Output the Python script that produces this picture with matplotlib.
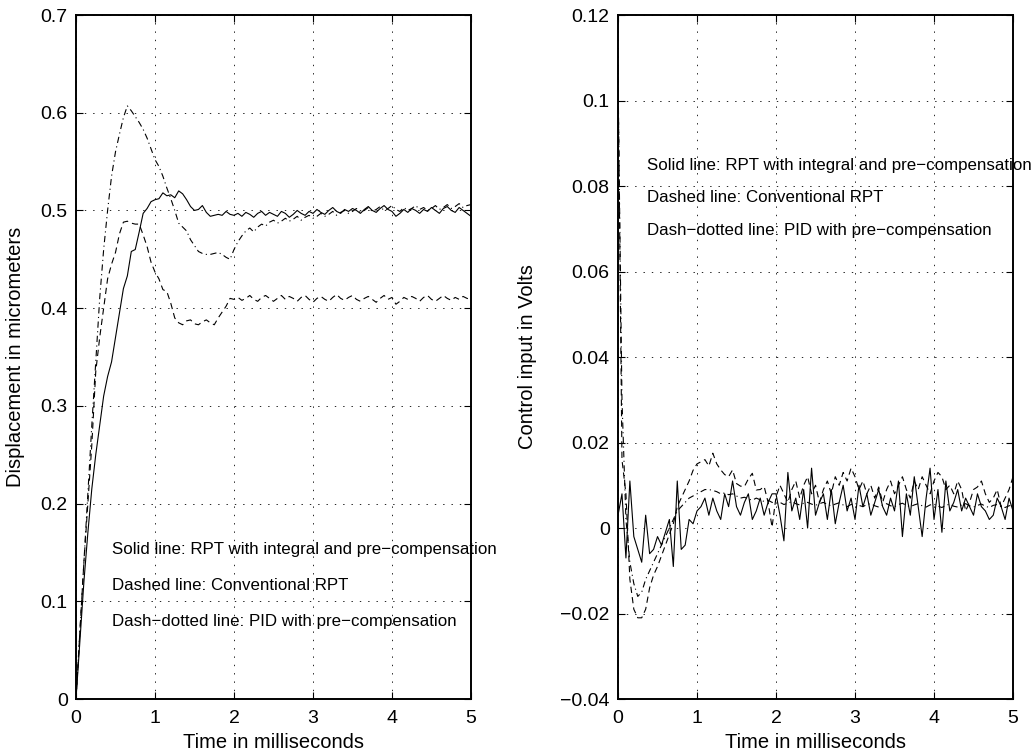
import numpy as np
import matplotlib
matplotlib.use("Agg")
import matplotlib.pyplot as plt

plt.rcParams['font.family'] = ['Liberation Sans', 'DejaVu Sans']
plt.rcParams['axes.unicode_minus'] = True
plt.rcParams['lines.scale_dashes'] = False

# time axis (ms), sampled every 0.05 ms
t_ms = np.linspace(0, 5, 101)

# ---- left panel: displacement (micrometers)
disp_solid = [
    0.0, 0.06, 0.12, 0.17, 0.215, 0.25, 0.28, 0.31, 0.33, 0.345,
    0.37, 0.395, 0.42, 0.433, 0.458, 0.46, 0.478, 0.497, 0.502, 0.509,
    0.511, 0.512, 0.518, 0.515, 0.516, 0.513, 0.52, 0.517, 0.511, 0.504,
    0.5, 0.501, 0.505, 0.498, 0.494, 0.495, 0.496, 0.495, 0.499, 0.496,
    0.495, 0.497, 0.494, 0.498, 0.496, 0.493, 0.497, 0.499, 0.495, 0.498,
    0.496, 0.494, 0.499, 0.497, 0.493, 0.496, 0.5, 0.497, 0.495, 0.499,
    0.497, 0.501, 0.498, 0.496, 0.5, 0.503, 0.499, 0.497, 0.501, 0.499,
    0.502, 0.5, 0.497, 0.501, 0.504, 0.5, 0.498, 0.502, 0.505, 0.501,
    0.499, 0.494, 0.497, 0.501, 0.498, 0.502, 0.5, 0.497, 0.501, 0.499,
    0.503, 0.5, 0.497, 0.502, 0.504, 0.5, 0.498, 0.503, 0.5, 0.497,
    0.494]
disp_dashed = [
    0.0, 0.07, 0.14, 0.2, 0.26, 0.335, 0.37, 0.4, 0.43, 0.445,
    0.457, 0.476, 0.488, 0.489, 0.487, 0.486, 0.486, 0.475, 0.463, 0.447,
    0.437, 0.43, 0.419, 0.417, 0.405, 0.39, 0.385, 0.383, 0.387, 0.388,
    0.384, 0.383, 0.386, 0.388, 0.385, 0.383, 0.39, 0.396, 0.402, 0.41,
    0.409, 0.411, 0.408, 0.41, 0.413, 0.409, 0.407, 0.411, 0.413, 0.41,
    0.407, 0.41, 0.413, 0.409, 0.412, 0.41, 0.407, 0.411, 0.413, 0.409,
    0.406, 0.41, 0.412, 0.409, 0.407, 0.411, 0.414, 0.41, 0.408, 0.411,
    0.413, 0.409, 0.407, 0.41, 0.412, 0.409, 0.406, 0.41, 0.413, 0.409,
    0.411, 0.404, 0.407, 0.411, 0.409, 0.412, 0.41, 0.407, 0.411, 0.413,
    0.409, 0.407, 0.41, 0.413, 0.41, 0.408, 0.411, 0.409, 0.412, 0.41,
    0.409]
disp_dashdot = [
    0.0, 0.07, 0.14, 0.21, 0.28, 0.345, 0.41, 0.46, 0.5, 0.535,
    0.56, 0.578, 0.595, 0.607, 0.602, 0.596, 0.59, 0.583, 0.574, 0.563,
    0.552, 0.545, 0.535, 0.523, 0.512, 0.5, 0.487, 0.483, 0.479, 0.47,
    0.464, 0.458, 0.456, 0.455, 0.455, 0.456, 0.457, 0.455, 0.452, 0.45,
    0.46, 0.468, 0.474, 0.479, 0.482, 0.478, 0.483, 0.486, 0.484, 0.488,
    0.49, 0.487, 0.489, 0.492, 0.489, 0.491, 0.494, 0.49, 0.493, 0.495,
    0.492, 0.494, 0.497, 0.494, 0.496, 0.499, 0.495, 0.498, 0.5, 0.497,
    0.499, 0.502, 0.498, 0.5, 0.503, 0.499, 0.501, 0.504, 0.5, 0.502,
    0.505, 0.501, 0.499, 0.503, 0.5, 0.502, 0.505, 0.501, 0.503, 0.5,
    0.502, 0.505, 0.501, 0.503, 0.506, 0.502, 0.504, 0.507, 0.503, 0.505,
    0.506]

# ---- right panel: control input (Volts)
ctrl_solid = [
    0.003, 0.008, -0.007, 0.011, -0.002, -0.005, -0.008, 0.003, -0.006, -0.005,
    -0.002, -0.004, -0.001, 0.002, -0.009, 0.011, -0.005, -0.004, 0.002, 0.001,
    0.004, 0.005, 0.007, 0.003, 0.007, 0.004, 0.002, 0.008, 0.005, 0.011,
    0.005, 0.003, 0.006, 0.008, 0.002, 0.004, 0.007, 0.003, 0.006, 0.008,
    0.008, 0.003, -0.003, 0.013, 0.004, 0.007, 0.002, 0.009, 0.0, 0.014,
    0.003, 0.006, 0.008, 0.002, 0.009, 0.001, 0.006, 0.01, 0.004, 0.007,
    0.002, 0.01, 0.005, 0.008, 0.003, 0.006, 0.009, 0.005, 0.003, 0.007,
    0.004, 0.011, -0.002, 0.008, 0.003, 0.012, 0.005, -0.002, 0.007, 0.014,
    0.002, 0.009, -0.001, 0.011, 0.004, 0.006, 0.009, 0.004, 0.007, 0.005,
    0.003, 0.008, 0.005, 0.004, 0.002, 0.003, 0.007, 0.005, 0.002, 0.007,
    0.004]
ctrl_dashed = [
    0.108, 0.016, 0.008, -0.012, -0.019, -0.021, -0.021, -0.019, -0.014, -0.011,
    -0.009, -0.0065, -0.004, -0.0015, 0.001, 0.005, 0.007, 0.009, 0.011, 0.0135,
    0.015, 0.0155, 0.016, 0.0145, 0.0175, 0.015, 0.0136, 0.0125, 0.012, 0.0136,
    0.0104, 0.0098, 0.0097, 0.0115, 0.0128, 0.0089, 0.009, 0.0097, 0.006, 0.0002,
    0.0073, 0.01, 0.008, 0.006, 0.009, 0.011, 0.007, 0.01, 0.012, 0.008,
    0.01, 0.006, 0.009, 0.011, 0.008, 0.012, 0.01, 0.013, 0.011, 0.014,
    0.012, 0.009, 0.011, 0.008, 0.01, 0.007, 0.0096, 0.006, 0.009, 0.011,
    0.008, 0.01, 0.012, 0.009, 0.007, 0.011, 0.009, 0.012, 0.01, 0.008,
    0.011, 0.013, 0.012, 0.009, 0.01, 0.008, 0.011, 0.009, 0.004, 0.006,
    0.009, 0.0096, 0.011, 0.008, 0.006, 0.007, 0.009, 0.005, 0.007, 0.009,
    0.012]
ctrl_dashdot = [
    0.105, 0.03, 0.002, -0.008, -0.013, -0.016, -0.015, -0.012, -0.01, -0.008,
    -0.006, -0.004, -0.002, 0.0, 0.002, 0.004, 0.005, 0.006, 0.007, 0.0075,
    0.008, 0.0085, 0.009, 0.009, 0.0088, 0.0085, 0.008, 0.0082, 0.0078, 0.008,
    0.0075, 0.007, 0.0072, 0.0068, 0.0065, 0.007, 0.0066, 0.0062, 0.0065, 0.006,
    0.0058, 0.006, 0.0055, 0.0058, 0.0062, 0.0057, 0.0054, 0.0058, 0.006, 0.0056,
    0.0053, 0.0057, 0.006, 0.0055, 0.0052, 0.0056, 0.0059, 0.0054, 0.005, 0.0055,
    0.0058, 0.0053, 0.005, 0.0055, 0.0057, 0.0052, 0.0049, 0.0054, 0.0057, 0.0052,
    0.005, 0.0055, 0.0058, 0.0053, 0.005, 0.0054, 0.0057, 0.0052, 0.0049, 0.0054,
    0.0056, 0.0051, 0.0048, 0.0053, 0.0056, 0.0051, 0.0049, 0.0054, 0.0057, 0.0052,
    0.0049, 0.0053, 0.0056, 0.0051, 0.0048, 0.0053, 0.0055, 0.005, 0.0048, 0.0052,
    0.0054]

x_ticks = [0, 1, 2, 3, 4, 5]
left_yticks = [0, 0.1, 0.2, 0.3, 0.4, 0.5, 0.6, 0.7]
right_yticks = [-0.04, -0.02, 0, 0.02, 0.04, 0.06, 0.08, 0.1, 0.12]
notes = ["Solid line: RPT with integral and pre\u2212compensation",
         "Dashed line: Conventional RPT",
         "Dash\u2212dotted line: PID with pre\u2212compensation"]

DASH = (0, (4.5, 3.0))
DASHDOT = (0, (4.5, 2.5, 0.8, 2.5))
LW = 0.8
TICK_FS = 14
LABEL_FS = 14.5
NOTE_FS = 12.2

fig = plt.figure(figsize=(10.34, 7.54), dpi=100)
axL = fig.add_axes([0.0735, 0.0729, 0.382, 0.9072])
axR = fig.add_axes([0.5977, 0.0729, 0.382, 0.9072])


def style(ax):
    ax.grid(True, color='k', linestyle=(0, (1, 5)), linewidth=0.6)
    ax.tick_params(direction='in', length=5, width=0.8, top=True, right=True,
                   labelsize=TICK_FS)
    ax.tick_params(axis='x', pad=8)
    ax.tick_params(axis='y', pad=6)
    for s in ax.spines.values():
        s.set_linewidth(1.4)
    ax.set_xlim(0, 5)
    ax.set_xticks(x_ticks)
    ax.set_xlabel("Time in milliseconds", fontsize=LABEL_FS, labelpad=4)


axL.plot(t_ms, disp_solid, color='k', lw=LW, ls='-')
axL.plot(t_ms, disp_dashed, color='k', lw=LW, ls=DASH)
axL.plot(t_ms, disp_dashdot, color='k', lw=LW, ls=DASHDOT)
style(axL)
axL.set_ylim(0, 0.7)
axL.set_yticks(left_yticks)
axL.set_yticklabels([f"{v:g}" for v in left_yticks])
axL.set_ylabel("Displacement in micrometers", fontsize=LABEL_FS)
axL.yaxis.set_label_coords(-0.128, 0.5)
for txt, yv in zip(notes, [0.153, 0.116, 0.079]):
    axL.text(0.45, yv, txt, fontsize=NOTE_FS, va='center', ha='left', clip_on=False)

axR.plot(t_ms, ctrl_solid, color='k', lw=LW, ls='-')
axR.plot(t_ms, ctrl_dashed, color='k', lw=LW, ls=DASH)
axR.plot(t_ms, ctrl_dashdot, color='k', lw=LW, ls=DASHDOT)
style(axR)
axR.set_ylim(-0.04, 0.12)
axR.set_yticks(right_yticks)
axR.set_yticklabels([f"{v:g}".replace('-', '\u2212') for v in right_yticks])
axR.set_ylabel("Control input in Volts", fontsize=LABEL_FS)
axR.yaxis.set_label_coords(-0.205, 0.5)
for txt, yv in zip(notes, [0.0848, 0.0772, 0.0697]):
    axR.text(0.37, yv, txt, fontsize=NOTE_FS, va='center', ha='left', clip_on=False)

fig.savefig("out.png", dpi=100)
